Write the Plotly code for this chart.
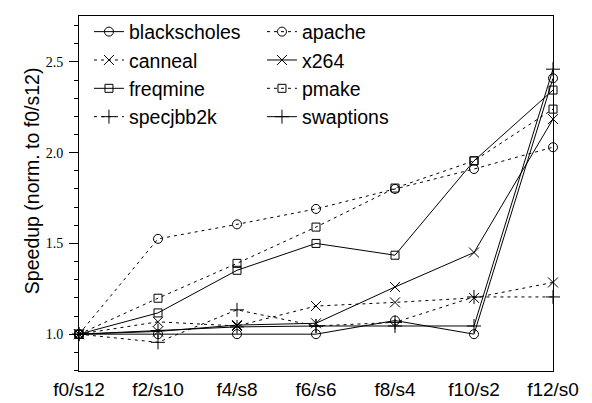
import plotly.graph_objects as go

configs = ["f0/s12", "f2/s10", "f4/s8", "f6/s6", "f8/s4", "f10/s2", "f12/s0"]

blackscholes = [1.0, 1.0, 1.0, 1.0, 1.075, 1.0, 2.41]
apache = [1.0, 1.525, 1.605, 1.69, 1.80, 1.91, 2.03]
canneal = [1.0, 1.068, 1.045, 1.155, 1.175, 1.20, 1.285]
x264 = [1.0, 1.015, 1.05, 1.06, 1.26, 1.45, 2.185]
freqmine = [1.0, 1.117, 1.352, 1.50, 1.435, 1.955, 2.345]
pmake = [1.0, 1.198, 1.39, 1.59, 1.805, 1.955, 2.24]
specjbb2k = [1.0, 0.955, 1.134, 1.045, 1.065, 1.205, 1.205]
swaptions = [1.0, 1.02, 1.04, 1.045, 1.045, 1.045, 2.46]

series = [
    ("blackscholes", blackscholes, "solid", "circle-open"),
    ("apache", apache, "dot", "circle-open"),
    ("canneal", canneal, "dot", "x-thin-open"),
    ("x264", x264, "solid", "x-thin-open"),
    ("freqmine", freqmine, "solid", "square-open"),
    ("pmake", pmake, "dot", "square-open"),
    ("specjbb2k", specjbb2k, "dot", "cross-thin-open"),
    ("swaptions", swaptions, "solid", "cross-thin-open"),
]

fig = go.Figure()
for name, vals, dash, sym in series:
    size = 9 if "circle" in sym else (8 if "square" in sym else 10)
    fig.add_trace(go.Scatter(
        x=list(range(len(configs))), y=vals, name=name, mode="lines+markers",
        line=dict(color="black", width=1, dash="3px,4px" if dash == "dot" else "solid"),
        marker=dict(symbol=sym, size=size, color="black",
                    line=dict(color="black", width=1)),
        cliponaxis=False,
    ))

fig.update_layout(
    width=592, height=403,
    margin=dict(l=79, r=39, t=16, b=32),
    paper_bgcolor="white", plot_bgcolor="white",
    font=dict(family="Liberation Sans, Arial, sans-serif", color="black", size=19),
    showlegend=True,
    legend=dict(
        orientation="h", x=0.021, y=1.01, xanchor="left", yanchor="top",
        entrywidth=128, entrywidthmode="pixels",
        font=dict(size=19.5, family="Liberation Sans, Arial, sans-serif"),
        bgcolor="rgba(0,0,0,0)", borderwidth=0, itemwidth=30,
        tracegroupgap=0,
    ),
    xaxis=dict(
        range=[0, 6], tickmode="array", tickvals=list(range(len(configs))),
        ticktext=configs, showgrid=False, zeroline=False, automargin=False,
        showline=True, linecolor="black", linewidth=1, mirror=True,
        ticks="", tickfont=dict(size=19), ticklabelstandoff=1,
    ),
    yaxis=dict(
        range=[0.797, 2.753], tickvals=[1.0, 1.5, 2.0, 2.5],
        ticktext=["1.0", "1.5", "2.0", "2.5"],
        showgrid=False, zeroline=False, automargin=False,
        showline=True, linecolor="black", linewidth=1, mirror=True,
        ticks="outside", ticklen=9, tickwidth=1, tickcolor="black",
        ticklabelstandoff=3,
        tickfont=dict(family="Liberation Serif, Times New Roman, serif", size=14),
        minor=dict(dtick=0.1, tick0=0, ticks="outside", ticklen=4,
                   tickcolor="black", tickwidth=1, showgrid=False),
    ),
    annotations=[dict(
        text="Speedup (norm. to f0/s12)", textangle=-90,
        xref="paper", yref="paper", x=-0.099, y=0.535,
        xanchor="center", yanchor="middle", showarrow=False,
        font=dict(size=19.5, family="Liberation Sans, Arial, sans-serif"),
    )],
)

fig.write_html("out.html")
